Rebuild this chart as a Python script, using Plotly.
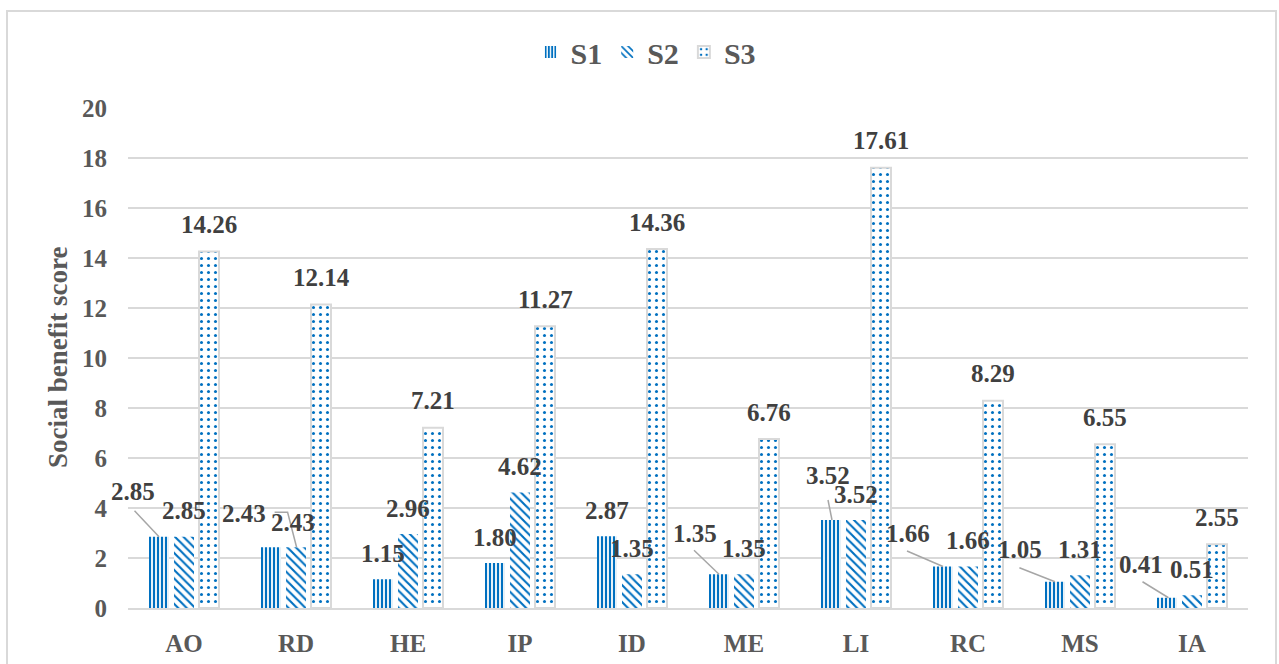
import plotly.graph_objects as go

# ---- data ----
categories = ["AO", "RD", "HE", "IP", "ID", "ME", "LI", "RC", "MS", "IA"]
series_names = ["S1", "S2", "S3"]
s1 = [2.85, 2.43, 1.15, 1.80, 2.87, 1.35, 3.52, 1.66, 1.05, 0.41]
s2 = [2.85, 2.43, 2.96, 4.62, 1.35, 1.35, 3.52, 1.66, 1.31, 0.51]
s3 = [14.26, 12.14, 7.21, 11.27, 14.36, 6.76, 17.61, 8.29, 6.55, 2.55]
y_ticks = [0, 2, 4, 6, 8, 10, 12, 14, 16, 18, 20]
y_title = "Social benefit score"

# ---- layout constants ----
W, H = 1279, 664
ML, MR, MT, MB = 128, 31, 108, 56
PW, PH = W - ML - MR, H - MT - MB
BARGAP, BARGROUPGAP = 0.33, 0.2
cat_w = PW / len(categories)
slot = cat_w * (1 - BARGAP) / 3
bar_offsets = [-slot, 0.0, slot]

BLUE = "#0070C0"
GRID = "#d9d9d9"
FONT = "Liberation Serif"

# label placement tweaks (series index, category index) -> (dx px, up px)
label_pos = {
    (0, 0): (-25.5, 45),
    (0, 1): (-27.4, 34),
    (1, 1): (-3.4, 25),
    (0, 5): (-24.4, 41),
    (0, 6): (-3.3, 45),
    (0, 7): (-35, 33.5),
    (0, 8): (-35, 32),
    (0, 9): (-26, 33),
}
default_up = [26, 26, 27]

# leader lines: (series, category) -> list of pixel points relative to bar top centre
leaders = {
    (0, 0): [(-24.5, 26), (0, 0)],
    (1, 1): [(-21.4, 35), (-8.4, 35), (0.6, 0)],
    (0, 5): [(-25, 24), (0, 0)],
    (0, 6): [(-3, 20), (1, 0)],
    (0, 7): [(-36, 15.5), (0, 0)],
    (0, 8): [(-35.6, 14), (0, 0)],
    (0, 9): [(-24.5, 16), (1.5, 0)],
}

patterns = [
    dict(shape="|", size=4, solidity=0.55, fgcolor=BLUE, bgcolor="white", fgopacity=1),
    dict(shape="\\", size=6, solidity=0.35, fgcolor=BLUE, bgcolor="white", fgopacity=1),
    dict(shape=".", size=7, solidity=0.15, fgcolor=BLUE, bgcolor="white", fgopacity=1),
]
lines = [dict(width=0, color="white"), dict(width=0, color="white"), dict(width=2, color=GRID)]

all_series = [s1, s2, s3]

fig = go.Figure()
for k, (name, vals) in enumerate(zip(series_names, all_series)):
    fig.add_trace(go.Bar(
        name=name, x=categories, y=vals,
        marker=dict(color=BLUE, pattern=patterns[k], line=lines[k]),
        hoverinfo="x+y",
    ))

annotations = []
for k, vals in enumerate(all_series):
    for i, v in enumerate(vals):
        dx, up = label_pos.get((k, i), (0, default_up[k]))
        annotations.append(dict(
            x=categories[i], y=v, xref="x", yref="y",
            text=f"{v:.2f}", showarrow=False,
            xshift=bar_offsets[k] + dx, yshift=up,
            xanchor="center", yanchor="middle",
            font=dict(family=FONT, size=25, color="#404040", weight=700),
        ))

annotations.append(dict(
    x=(58 - ML) / PW, y=(608 - 358) / PH, xref="paper", yref="paper",
    text=y_title, textangle=-90, showarrow=False,
    xanchor="center", yanchor="middle",
    font=dict(family=FONT, size=27, color="#595959", weight=700),
))

shapes = []
for (k, i), pts in leaders.items():
    path = "M" + " L".join(f"{bar_offsets[k] + px:.1f},{py:.1f}" for px, py in pts)
    shapes.append(dict(
        type="path", xref="x", yref="y",
        xsizemode="pixel", ysizemode="pixel",
        xanchor=i, yanchor=all_series[k][i],
        path=path, line=dict(color="#a6a6a6", width=1.5), layer="above",
    ))

# outer chart border
shapes.append(dict(
    type="rect", xref="paper", yref="paper",
    x0=(7 - ML) / PW, x1=(1276 - ML) / PW,
    y0=(MT + PH - 680) / PH, y1=(MT + PH - 11) / PH,
    line=dict(color=GRID, width=2), fillcolor="rgba(0,0,0,0)", layer="below",
))

fig.update_layout(
    width=W, height=H,
    margin=dict(l=ML, r=MR, t=MT, b=MB, autoexpand=False),
    paper_bgcolor="white", plot_bgcolor="white",
    barmode="group", bargap=BARGAP, bargroupgap=BARGROUPGAP,
    showlegend=True,
    legend=dict(
        orientation="h", x=(646 - ML) / PW, xanchor="center",
        y=1 + (MT - 52) / PH, yanchor="middle",
        font=dict(family=FONT, size=30, color="#595959", weight=700),
        itemwidth=30, traceorder="normal",
    ),
    annotations=annotations,
    shapes=shapes,
)
fig.update_xaxes(
    type="category", range=[-0.5, len(categories) - 0.5], autorange=False,
    showgrid=False, showline=True, linecolor=GRID, linewidth=2,
    ticks="", ticklabelstandoff=12,
    tickfont=dict(family=FONT, size=25, color="#595959", weight=700),
)
fig.update_yaxes(
    range=[0, 20], autorange=False, tickvals=y_ticks, showgrid=True, gridcolor=GRID, gridwidth=2,
    zeroline=False, showline=False, ticks="", ticklabelstandoff=20,
    tickfont=dict(family=FONT, size=25, color="#595959", weight=700),
)

fig.write_html(
    "out.html",
    config={"displayModeBar": False},
    post_script="document.body.style.margin='0';document.body.style.overflow='hidden';",
)
